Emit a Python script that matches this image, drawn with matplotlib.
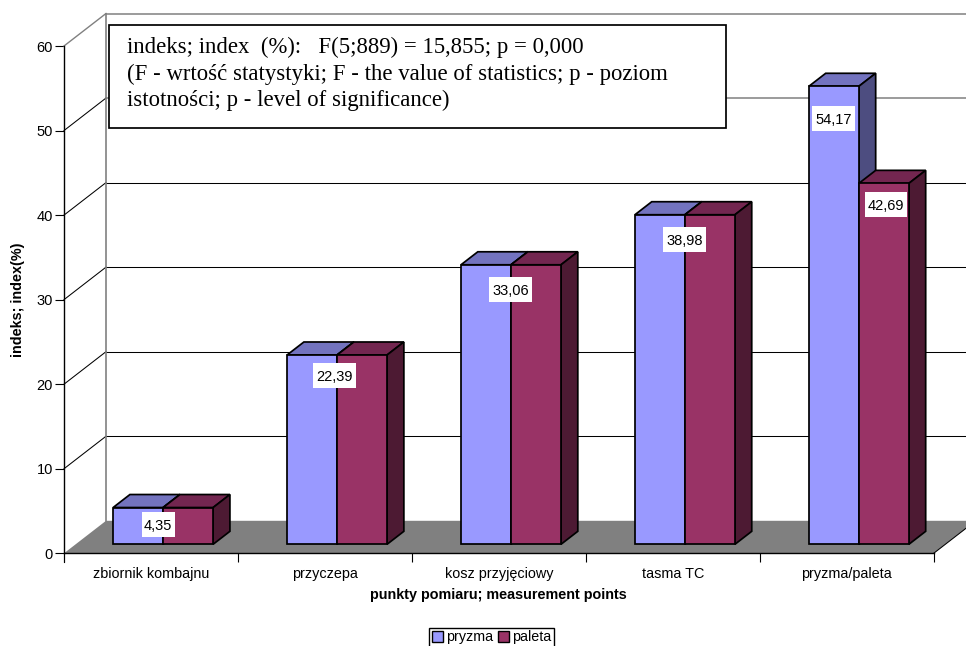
import matplotlib
matplotlib.use("Agg")
import matplotlib.pyplot as plt
from matplotlib.patches import Polygon, Rectangle

categories = ["zbiornik kombajnu", "przyczepa", "kosz przyjęciowy", "tasma TC", "pryzma/paleta"]
pryzma = [4.35, 22.39, 33.06, 38.98, 54.17]
paleta = [4.35, 22.39, 33.06, 38.98, 42.69]
pryzma_labels = ["4,35", "22,39", "33,06", "38,98", "54,17"]
paleta_labels = [(4, "42,69")]
y_ticks = [0, 10, 20, 30, 40, 50, 60]

W, H = 966, 646
LEFT, RIGHT, BASE, TOP = 64, 933.7, 553.3, 46

fig = plt.figure(figsize=(W / 100, H / 100), dpi=100)
plt.rcParams["font.family"] = ["Liberation Sans", "DejaVu Sans"]
ax = fig.add_axes([LEFT / W, 1 - BASE / H, (RIGHT - LEFT) / W, (BASE - TOP) / H])
ax.set_xlim(0, 5)
ax.set_ylim(0, 60)
ax.patch.set_visible(False)

# Oblique projection: one unit of depth shifts a point by this much in data units.
px_x = (RIGHT - LEFT) / 5
px_y = (BASE - TOP) / 60
KX = 42 / px_x
KY = 32.5 / px_y


def proj(x, v, depth):
    return (x + depth * KX, v + depth * KY)


GRID = "#000000"
WALL = "#808080"
THIN = 0.75

# Back wall, side wall and floor
for v in y_ticks[1:]:
    colour = WALL if v >= 50 else GRID
    lw = 1.1 if v >= 50 else THIN
    ax.plot(*zip(proj(0, v, 0), proj(0, v, 1)), color=colour if v == 60 else GRID,
            lw=1.0 if v == 60 else THIN, clip_on=False, zorder=2)
    ax.plot(*zip(proj(0, v, 1), proj(5, v, 1)), color=colour, lw=lw, clip_on=False, zorder=1)
ax.plot(*zip(proj(0, 0, 1), proj(0, 60, 1)), color=WALL, lw=1.2, clip_on=False, zorder=2)
ax.add_patch(Polygon([proj(0, 0, 0), proj(5, 0, 0), proj(5, 0, 1), proj(0, 0, 1)],
                     facecolor=WALL, edgecolor="none", clip_on=False, zorder=3))
ax.plot(*zip(proj(5, 0, 0), proj(5, 0, 1)), color=GRID, lw=THIN, clip_on=False, zorder=3)

# Bars: each one is a front face with a shaded top and side behind it
BAR_W = 50 / px_x
D0, D1 = 9 / 32.5, 9 / 32.5 + 13 / 32.5
EDGE = 1.25


def box(x0, value, front, top, side, z):
    x1 = x0 + BAR_W
    ax.add_patch(Polygon([proj(x0, value, D0), proj(x1, value, D0), proj(x1, value, D1), proj(x0, value, D1)],
                         facecolor=top, edgecolor="black", lw=EDGE, clip_on=False, zorder=z))
    ax.add_patch(Polygon([proj(x1, 0, D0), proj(x1, value, D0), proj(x1, value, D1), proj(x1, 0, D1)],
                         facecolor=side, edgecolor="black", lw=EDGE, clip_on=False, zorder=z))
    ax.add_patch(Polygon([proj(x0, 0, D0), proj(x1, 0, D0), proj(x1, value, D0), proj(x0, value, D0)],
                         facecolor=front, edgecolor="black", lw=EDGE, clip_on=False, zorder=z + 0.1))


for i, (a, b) in enumerate(zip(pryzma, paleta)):
    left_edge = i + 0.5 - BAR_W + 0.003
    box(left_edge, a, "#9999FF", "#7373BF", "#4D4D80", 4 + i)
    box(left_edge + BAR_W, b, "#993366", "#732650", "#4D1A33", 4.3 + i)

# Value labels on white plates; nudges are in pixels from the bar's top-left front corner
pryzma_nudges = [(45.5, -17), (48, -21), (50, -25), (50, -25), (25, -32)]
paleta_nudges = [(27.5, -21)]


def value_tag(i, series, text, nudge, shift):
    x, y = proj(i + 0.5 - BAR_W + shift, series[i], D0)
    cx, cy = x + nudge[0] / px_x, y + nudge[1] / px_y
    w, h = (33 if len(text) == 4 else 42.5) / px_x, 25 / px_y
    ax.add_patch(Rectangle((cx - w / 2, cy - h / 2), w, h, facecolor="white", edgecolor="none",
                           clip_on=False, zorder=20))
    ax.text(cx, cy, text, ha="center", va="center_baseline", fontsize=10.5, zorder=21, clip_on=False)


for i, (text, nudge) in enumerate(zip(pryzma_labels, pryzma_nudges)):
    value_tag(i, pryzma, text, nudge, 0)
for (i, text), nudge in zip(paleta_labels, paleta_nudges):
    value_tag(i, paleta, text, nudge, BAR_W)

# Axes
for name in ("top", "right"):
    ax.spines[name].set_visible(False)
for name in ("left", "bottom"):
    ax.spines[name].set_linewidth(1.0)
    ax.spines[name].set_zorder(15)
ax.set_yticks(y_ticks)
ax.set_xticks(range(6))
ax.set_xticklabels([])
ax.set_xticks([i + 0.5 for i in range(5)], minor=True)
ax.set_xticklabels(categories, minor=True, fontsize=10.4)
ax.tick_params(axis="x", which="major", length=6.5, width=0.8, color="black")
ax.tick_params(axis="x", which="minor", length=0, pad=10)
ax.tick_params(axis="y", length=6.5, width=0.8, labelsize=10.5, pad=1.5)
ax.spines["left"].set_bounds(0, 60)
ax.plot([0, 0], [0, -9 / px_y], color="black", lw=0.8, clip_on=False, zorder=15)

fig.text(498 / W, 1 - 594.5 / H, "punkty pomiaru; measurement points", ha="center", va="center",
         fontsize=10.4, fontweight="bold")
fig.text(18 / W, 1 - 300 / H, "indeks; index(%)", ha="center", va="center", rotation=90,
         fontsize=10.4, fontweight="bold")

# Statistics note
fig.patches.append(Rectangle((108.5 / W, 1 - 128 / H), 617.5 / W, 103.5 / H, transform=fig.transFigure,
                             facecolor="white", edgecolor="black", lw=1.25, zorder=30))
note = ["indeks; index  (%):   F(5;889) = 15,855; p = 0,000",
        "(F - wrtość statystyki; F - the value of statistics; p - poziom",
        "istotności; p - level of significance)"]
for k, line in enumerate(note):
    fig.text(127 / W, 1 - (47.5 + 26.7 * k) / H, line, ha="left", va="center", fontsize=16.4,
             family="Liberation Serif", zorder=31)

# Legend
handles = [Rectangle((0, 0), 1, 1, facecolor="#9999FF", edgecolor="black", lw=1),
           Rectangle((0, 0), 1, 1, facecolor="#993366", edgecolor="black", lw=1)]
fig.legend(handles, ["pryzma", "paleta"], ncol=2, loc="upper center", bbox_to_anchor=(491.7 / W, 1 - 627.5 / H),
           fontsize=10.3, fancybox=False, edgecolor="black", framealpha=1, borderpad=0.2,
           handlelength=0.75, handleheight=0.75, handletextpad=0.2, columnspacing=0.4, borderaxespad=0)

fig.savefig("out.png", dpi=100)
